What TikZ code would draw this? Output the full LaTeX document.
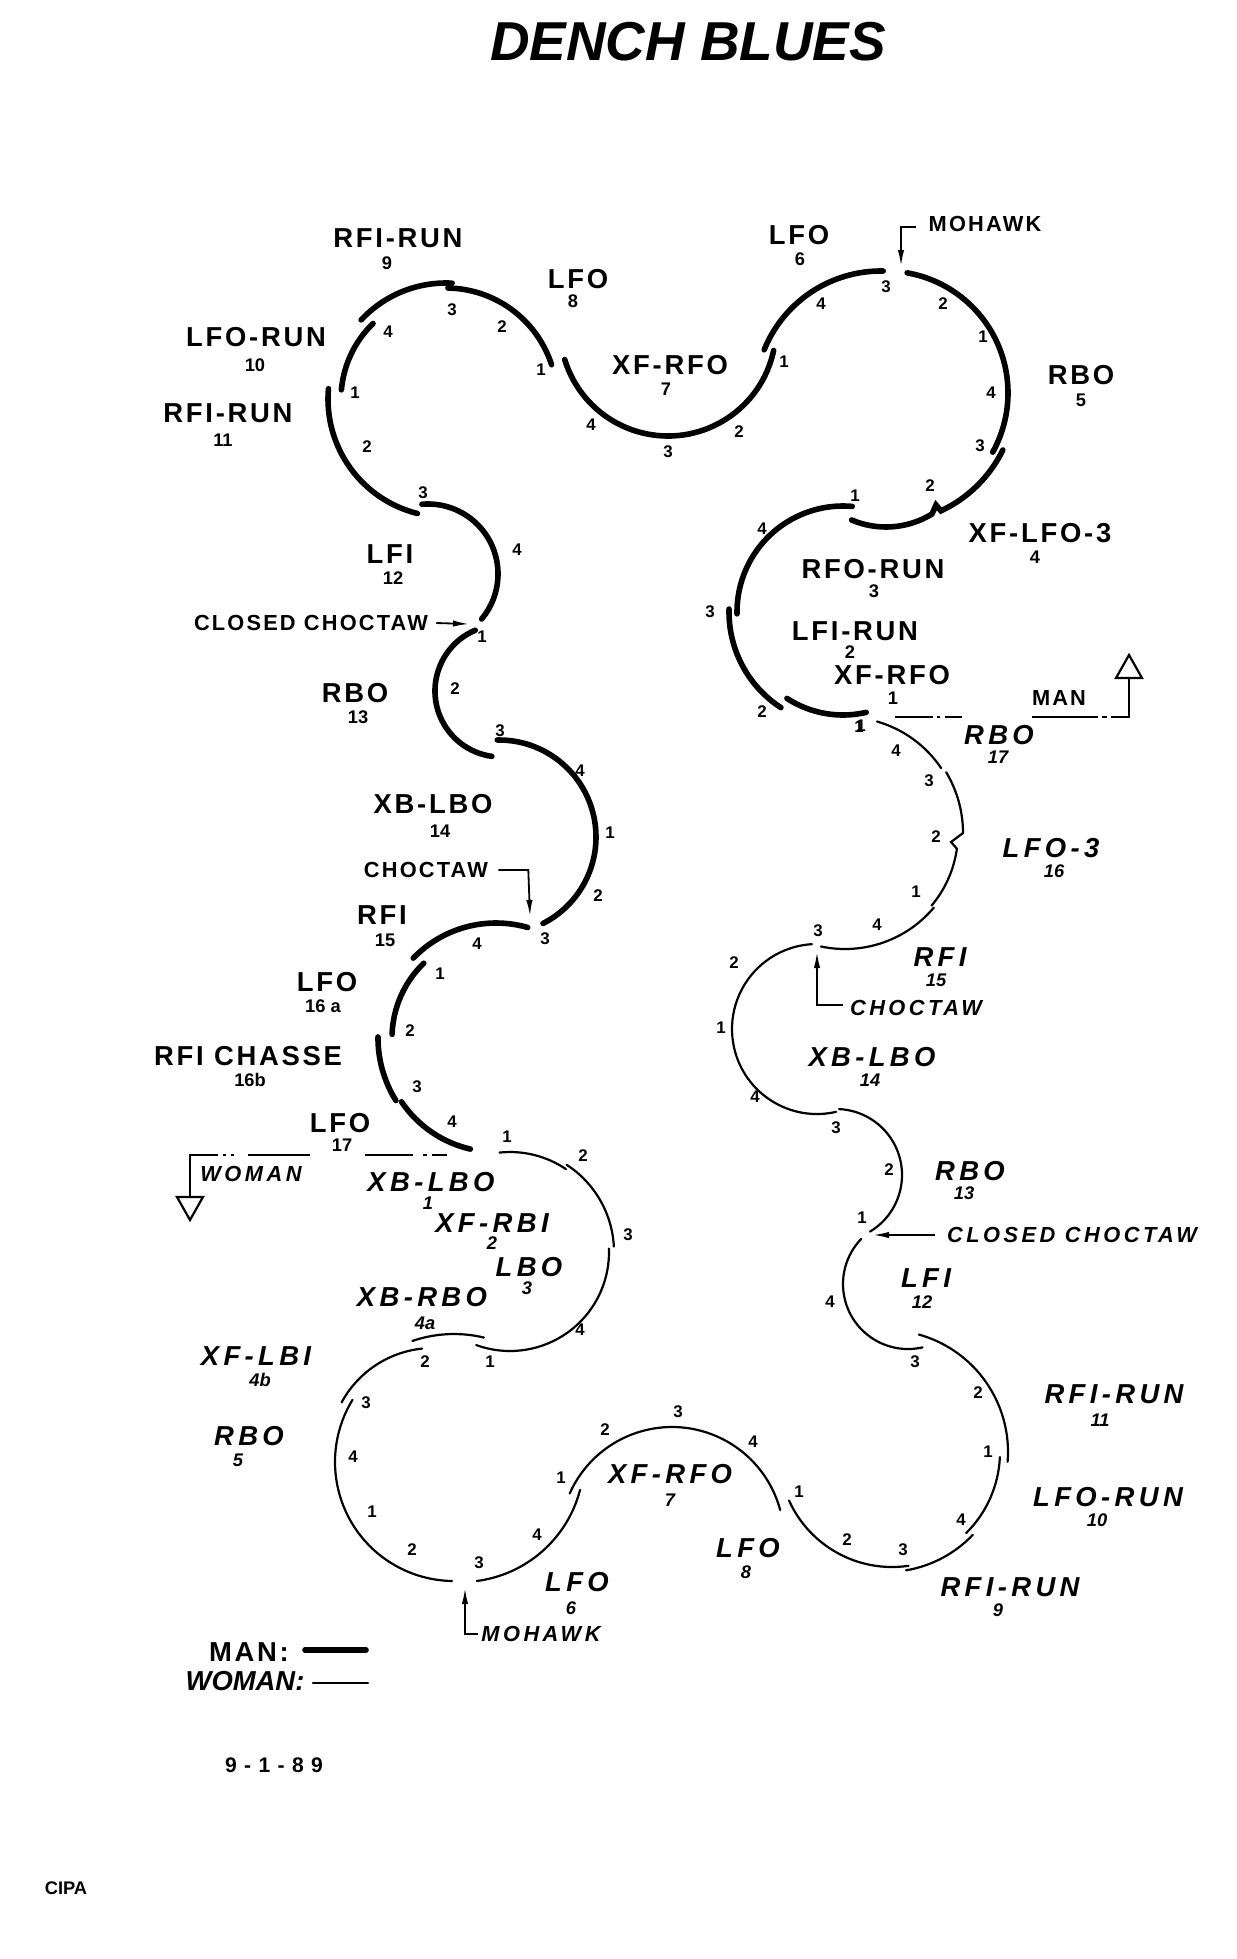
\documentclass[tikz,border=0pt]{standalone}
\usepackage{fontspec}
\usetikzlibrary{arrows.meta,calc}
\newfontfamily\lblfont[LetterSpace=10]{Liberation Sans}
\newfontfamily\wlblfont[LetterSpace=16]{Liberation Sans}
\newfontfamily\numfont{Liberation Sans}
\newfontfamily\datefont[LetterSpace=35]{Liberation Sans}

\tikzset{
  man/.style={line width=1.4mm, line cap=round},
  woman/.style={line width=0.55mm, line cap=round},
  ruler/.style={line width=0.55mm},
  mlbl/.style={font=\lblfont\bfseries\fontsize{19.5}{20}\selectfont, inner sep=0pt},
  wlbl/.style={font=\wlblfont\bfseries\itshape\fontsize{19.5}{20}\selectfont, inner sep=0pt},
  mnum/.style={font=\numfont\bfseries\fontsize{13}{14}\selectfont, inner sep=0pt},
  wnum/.style={font=\numfont\bfseries\itshape\fontsize{13}{14}\selectfont, inner sep=0pt},
  beat/.style={font=\numfont\bfseries\fontsize{12}{13}\selectfont, inner sep=0pt},
  mnote/.style={font=\lblfont\bfseries\fontsize{15.5}{16}\selectfont, inner sep=0pt},
  wnote/.style={font=\wlblfont\bfseries\itshape\fontsize{15.5}{16}\selectfont, inner sep=0pt},
  ptr/.style={line width=0.45mm, -{Latex[length=4mm,width=1.6mm]}},
}

\begin{document}
\begin{tikzpicture}[x=0.25mm,y=-0.25mm]
  \fill[white] (0,0) rectangle (1236,1959);
  \useasboundingbox (0,0) rectangle (1236,1959);

  \node[font=\numfont\bfseries\itshape\fontsize{39}{40}\selectfont, inner sep=0pt] (title) at (688,42) {DENCH BLUES};

  % lobe centres
  \coordinate (ma) at (843,612);
  \coordinate (mb) at (886,439);
  \coordinate (mc) at (886,393);
  \coordinate (md) at (881,397);
  \coordinate (me) at (668,328);
  \coordinate (mf) at (446,399);
  \coordinate (mg) at (428,574);
  \coordinate (mh) at (501,691);
  \coordinate (mi) at (499,837);
  \coordinate (mj) at (496,1038);
  \coordinate (wa) at (510,1252);
  \coordinate (wb) at (454,1462);
  \coordinate (wc) at (433,1452);
  \coordinate (wd) at (461,1459);
  \coordinate (we) at (672,1539);
  \coordinate (wf) at (892,1454);
  \coordinate (wg) at (886,1452);
  \coordinate (wh) at (908,1284);
  \coordinate (wi) at (836,1175);
  \coordinate (wj) at (817,1029);
  \coordinate (wk) at (845,833);

  % man's steps
  \draw[man] (ma) ++(123:103) arc[start angle=123, end angle=77, radius=103];
  \draw[man] (ma) ++(181.5:114) arc[start angle=181.5, end angle=123, radius=114];
  \draw[man] (ma) ++(179:106) arc[start angle=179, end angle=275, radius=106];
  \draw[man] (mb) ++(113:88) arc[start angle=113, end angle=58.5, radius=88]
    -- (936,505) -- ($(mc)+(65:130)$) arc[start angle=65, end angle=26, radius=130];
  \draw[man] (mc) ++(280:122) arc[start angle=280, end angle=389, radius=122];
  \draw[man] (md) ++(271:126) arc[start angle=271, end angle=202, radius=126];
  \draw[man] (me) ++(12:108) arc[start angle=12, end angle=163, radius=108];
  \draw[man] (mf) ++(342:111) arc[start angle=342, end angle=271, radius=111];
  \draw[man] (mf) ++(273:116) arc[start angle=273, end angle=223, radius=116];
  \draw[man] (mf) ++(226:105) arc[start angle=226, end angle=185, radius=105];
  \draw[man] (mf) ++(185:118) arc[start angle=185, end angle=104, radius=118];
  \draw[man] (mg) ++(265:70) arc[start angle=265, end angle=400, radius=70];
  \draw[man] (mh) ++(247:66) arc[start angle=247, end angle=98, radius=66];
  \draw[man] (mi) ++(269:97) arc[start angle=269, end angle=423, radius=97];
  \draw[man] (mj) ++(286:115) arc[start angle=286, end angle=224, radius=115];
  \draw[man] (mj) ++(226:104) arc[start angle=226, end angle=182, radius=104];
  \draw[man] (mj) ++(180.5:118) arc[start angle=180.5, end angle=148, radius=118];
  \draw[man] (mj) ++(146:114) arc[start angle=146, end angle=103, radius=114];

  % woman's steps
  \draw[woman] (wa) ++(264:100) arc[start angle=264, end angle=304, radius=100];
  \draw[woman] (wa) ++(303:104) arc[start angle=303, end angle=357, radius=104];
  \draw[woman] (wa) ++(358:99) arc[start angle=358, end angle=470, radius=99];
  \draw[woman] (wb) ++(251:128) arc[start angle=251, end angle=283.5, radius=128];
  \draw[woman] (wc) ++(264:104) arc[start angle=264, end angle=208.5, radius=104];
  \draw[woman] (wb) ++(211.5:119) arc[start angle=211.5, end angle=91, radius=119];
  \draw[woman] (wd) ++(82.6:123) arc[start angle=82.6, end angle=14.5, radius=123];
  \draw[woman] (we) ++(204:112) arc[start angle=204, end angle=345, radius=112];
  \draw[woman] (wf) ++(155.7:113) arc[start angle=155.7, end angle=81.6, radius=113];
  \draw[woman] (wg) ++(80.4:120) arc[start angle=80.4, end angle=43.7, radius=120];
  \draw[woman] (wg) ++(45.4:114) arc[start angle=45.4, end angle=2.5, radius=114];
  \draw[woman] (wg) ++(4.6:122) arc[start angle=4.6, end angle=-74.4, radius=122];
  \draw[woman] (wh) ++(77:65) arc[start angle=77, end angle=224, radius=65];
  \draw[woman] (wi) ++(59:66) arc[start angle=59, end angle=-87.4, radius=66];
  \draw[woman] (wj) ++(77:85) arc[start angle=77, end angle=266.6, radius=85];
  \draw[woman] (wk) ++(102:116) arc[start angle=102, end angle=40, radius=116];
  \draw[woman] (wk) ++(40:113) arc[start angle=40, end angle=8, radius=113]
    -- (951,842) -- ($(wk)+(0:118)$) arc[start angle=0, end angle=-31, radius=118];
  \draw[woman] (wk) ++(-74:116) arc[start angle=-74, end angle=-34, radius=116];

  % man's labels
  \node[mlbl] (m1) at (892,675) {XF-RFO};
  \node[mnum] (m1n) at (893,698) {1};
  \node[mlbl] (m2) at (855,631) {LFI-RUN};
  \node[mnum] (m2n) at (850,652) {2};
  \node[mlbl] (m3) at (873,569) {RFO-RUN};
  \node[mnum] (m3n) at (874,591) {3};
  \node[mlbl] (m4) at (1040,533) {XF-LFO-3};
  \node[mnum] (m4n) at (1035,557) {4};
  \node[mlbl] (m5) at (1081,375) {RBO};
  \node[mnum] (m5n) at (1081,400) {5};
  \node[mlbl] (m6) at (799,235) {LFO};
  \node[mnum] (m6n) at (800,259) {6};
  \node[mlbl] (m7) at (670,365) {XF-RFO};
  \node[mnum] (m7n) at (666,389) {7};
  \node[mlbl] (m8) at (578,279) {LFO};
  \node[mnum] (m8n) at (573,301) {8};
  \node[mlbl] (m9) at (398,238) {RFI-RUN};
  \node[mnum] (m9n) at (387,263) {9};
  \node[mlbl] (m10) at (256,337) {LFO-RUN};
  \node[mnum] (m10n) at (255,365) {10};
  \node[mlbl] (m11) at (228,413) {RFI-RUN};
  \node[mnum] (m11n) at (223,440) {11};
  \node[mlbl] (m12) at (390,554) {LFI};
  \node[mnum] (m12n) at (393,578) {12};
  \node[mlbl] (m13) at (355,693) {RBO};
  \node[mnum] (m13n) at (358,717) {13};
  \node[mlbl] (m14) at (433,804) {XB-LBO};
  \node[mnum] (m14n) at (440,831) {14};
  \node[mlbl] (m15) at (382,915) {RFI};
  \node[mnum] (m15n) at (385,940) {15};
  \node[mlbl] (m16a) at (327,982) {LFO};
  \node[mnum] (m16an) at (323,1006) {16 a};
  \node[mlbl] (m16b) at (248,1056) {RFI CHASSE};
  \node[mnum] (m16bn) at (250,1080) {16b};
  \node[mlbl] (m17) at (340,1123) {LFO};
  \node[mnum] (m17n) at (342,1145) {17};

  \node[mnote] (mmohawk) at (985,224) {MOHAWK};
  \node[mnote] (mclosed) at (311,623) {CLOSED CHOCTAW};
  \node[mnote] (mchoc) at (426,870) {CHOCTAW};
  \node[mnote] (mman) at (1059,698) {MAN};

  % woman's labels
  \node[wlbl] (w1) at (431,1182) {XB-LBO};
  \node[wnum] (w1n) at (428,1203) {1};
  \node[wlbl] (w2) at (492,1223) {XF-RBI};
  \node[wnum] (w2n) at (492,1243) {2};
  \node[wlbl] (w3) at (529,1267) {LBO};
  \node[wnum] (w3n) at (527,1288) {3};
  \node[wlbl] (w4a) at (422,1297) {XB-RBO};
  \node[wnum] (w4an) at (425,1323) {4a};
  \node[wlbl] (w4b) at (256,1356) {XF-LBI};
  \node[wnum] (w4bn) at (260,1380) {4b};
  \node[wlbl] (w5) at (249,1436) {RBO};
  \node[wnum] (w5n) at (238,1460) {5};
  \node[wlbl] (w6) at (577,1582) {LFO};
  \node[wnum] (w6n) at (571,1608) {6};
  \node[wlbl] (w7) at (670,1474) {XF-RFO};
  \node[wnum] (w7n) at (670,1500) {7};
  \node[wlbl] (w8) at (748,1548) {LFO};
  \node[wnum] (w8n) at (746,1572) {8};
  \node[wlbl] (w9) at (1010,1587) {RFI-RUN};
  \node[wnum] (w9n) at (998,1610) {9};
  \node[wlbl] (w10) at (1108,1497) {LFO-RUN};
  \node[wnum] (w10n) at (1097,1520) {10};
  \node[wlbl] (w11) at (1114,1394) {RFI-RUN};
  \node[wnum] (w11n) at (1100,1420) {11};
  \node[wlbl] (w12) at (926,1278) {LFI};
  \node[wnum] (w12n) at (922,1302) {12};
  \node[wlbl] (w13) at (970,1171) {RBO};
  \node[wnum] (w13n) at (964,1193) {13};
  \node[wlbl] (w14) at (872,1057) {XB-LBO};
  \node[wnum] (w14n) at (870,1080) {14};
  \node[wlbl] (w15) at (940,957) {RFI};
  \node[wnum] (w15n) at (936,980) {15};
  \node[wlbl] (w16) at (1051,848) {LFO-3};
  \node[wnum] (w16n) at (1054,871) {16};
  \node[wlbl] (w17) at (999,735) {RBO};
  \node[wnum] (w17n) at (998,757) {17};

  \node[wnote] (wmohawk) at (541,1634) {MOHAWK};
  \node[wnote] (wclosed) at (1072,1235) {CLOSED CHOCTAW};
  \node[wnote] (wchoc) at (916,1008) {CHOCTAW};
  \node[wnote] (wwoman) at (251,1174) {WOMAN};

  % beats, man
  \node[beat] (mb1) at (452,310) {3};
  \node[beat] (mb2) at (502,327) {2};
  \node[beat] (mb3) at (541,370) {1};
  \node[beat] (mb4) at (388,332) {4};
  \node[beat] (mb5) at (355,393) {1};
  \node[beat] (mb6) at (367,447) {2};
  \node[beat] (mb7) at (423,493) {3};
  \node[beat] (mb8) at (517,550) {4};
  \node[beat] (mb9) at (591,425) {4};
  \node[beat] (mb10) at (668,452) {3};
  \node[beat] (mb11) at (739,432) {2};
  \node[beat] (mb12) at (784,362) {1};
  \node[beat] (mb13) at (821,304) {4};
  \node[beat] (mb14) at (886,287) {3};
  \node[beat] (mb15) at (943,304) {2};
  \node[beat] (mb16) at (983,337) {1};
  \node[beat] (mb17) at (991,393) {4};
  \node[beat] (mb18) at (980,446) {3};
  \node[beat] (mb19) at (930,486) {2};
  \node[beat] (mb20) at (855,496) {1};
  \node[beat] (mb21) at (762,529) {4};
  \node[beat] (mb22) at (710,612) {3};
  \node[beat] (mb23) at (762,712) {2};
  \node[beat] (mb24) at (859,727) {1};
  \node[beat] (mb25) at (482,637) {1};
  \node[beat] (mb26) at (455,689) {2};
  \node[beat] (mb27) at (500,731) {3};
  \node[beat] (mb28) at (580,771) {4};
  \node[beat] (mb29) at (610,833) {1};
  \node[beat] (mb30) at (598,896) {2};
  \node[beat] (mb31) at (545,939) {3};
  \node[beat] (mb32) at (477,944) {4};
  \node[beat] (mb33) at (440,974) {1};
  \node[beat] (mb34) at (410,1031) {2};
  \node[beat] (mb35) at (417,1087) {3};
  \node[beat] (mb36) at (452,1122) {4};

  % beats, woman
  \node[beat] (wb1) at (861,726) {1};
  \node[beat] (wb2) at (896,751) {4};
  \node[beat] (wb3) at (929,781) {3};
  \node[beat] (wb4) at (936,837) {2};
  \node[beat] (wb5) at (916,892) {1};
  \node[beat] (wb6) at (877,925) {4};
  \node[beat] (wb7) at (818,931) {3};
  \node[beat] (wb8) at (734,963) {2};
  \node[beat] (wb9) at (721,1028) {1};
  \node[beat] (wb10) at (755,1097) {4};
  \node[beat] (wb11) at (836,1128) {3};
  \node[beat] (wb12) at (889,1170) {2};
  \node[beat] (wb13) at (862,1218) {1};
  \node[beat] (wb14) at (830,1302) {4};
  \node[beat] (wb15) at (915,1362) {3};
  \node[beat] (wb16) at (978,1393) {2};
  \node[beat] (wb17) at (988,1452) {1};
  \node[beat] (wb18) at (961,1520) {4};
  \node[beat] (wb19) at (903,1550) {3};
  \node[beat] (wb20) at (847,1540) {2};
  \node[beat] (wb21) at (799,1492) {1};
  \node[beat] (wb22) at (753,1442) {4};
  \node[beat] (wb23) at (678,1412) {3};
  \node[beat] (wb24) at (605,1430) {2};
  \node[beat] (wb25) at (561,1478) {1};
  \node[beat] (wb26) at (537,1535) {4};
  \node[beat] (wb27) at (479,1563) {3};
  \node[beat] (wb28) at (425,1362) {2};
  \node[beat] (wb29) at (490,1362) {1};
  \node[beat] (wb30) at (580,1330) {4};
  \node[beat] (wb31) at (366,1403) {3};
  \node[beat] (wb32) at (353,1457) {4};
  \node[beat] (wb33) at (372,1512) {1};
  \node[beat] (wb34) at (412,1550) {2};
  \node[beat] (wb35) at (507,1137) {1};
  \node[beat] (wb36) at (583,1156) {2};
  \node[beat] (wb37) at (628,1235) {3};

  % turn pointers
  \coordinate (mhk) at (901,266);
  \coordinate (mcc) at (469,624);
  \coordinate (mch) at (530,916);
  \coordinate (whk) at (465,1588);
  \coordinate (wcc) at (873,1235);
  \coordinate (wch) at (817,952);
  \draw[ptr] ($(mmohawk.west)+(-12,3)$) -| (mhk);
  \draw[ptr] ($(mclosed.east)+(8,0)$) -- (mcc);
  \draw[ptr] ($(mchoc.east)+(10,0)$) -- ++(30,0) -- (mch);
  \draw[ptr] ($(wmohawk.west)+(-3,0)$) -| (whk);
  \draw[ptr] ($(wclosed.west)+(-12,0)$) -- (wcc);
  \draw[ptr] ($(wchoc.west)+(-7,-3)$) -| (wch);

  % start lines
  \draw[ruler] (895,717) -- (933,717);
  \draw[ruler] (937,717) -- (940,717);
  \draw[ruler] (945,717) -- (962,717);
  \draw[ruler] (1032,717) -- (1098,717);
  \draw[ruler] (1102,717) -- (1107,717);
  \draw[ruler] (1111,717) -- (1129,717) -- (1129,678);
  \draw[ruler] (1116,678) -- (1142,678) -- (1129,655) -- cycle;

  \draw[ruler] (190,1197) -- (190,1155) -- (218,1155);
  \draw[ruler] (223,1155) -- (226,1155);
  \draw[ruler] (231,1155) -- (234,1155);
  \draw[ruler] (248,1155) -- (310,1155);
  \draw[ruler] (365,1155) -- (413,1155);
  \draw[ruler] (423,1155) -- (427,1155);
  \draw[ruler] (432,1155) -- (447,1155);
  \draw[ruler] (177,1197) -- (203,1197) -- (190,1220) -- cycle;

  % key
  \node[font=\lblfont\bfseries\fontsize{19.5}{20}\selectfont, inner sep=0pt] (lman) at (249,1652) {MAN:};
  \node[font=\numfont\bfseries\itshape\fontsize{19.5}{20}\selectfont, inner sep=0pt] (lwoman) at (245,1681) {WOMAN:};
  \draw[man] (305,1650) -- (366,1650);
  \draw[woman] (313,1683) -- (368,1683);

  \node[font=\datefont\bfseries\fontsize{15}{16}\selectfont, inner sep=0pt] (date) at (274,1765) {9-1-89};
  \node[font=\numfont\bfseries\fontsize{13}{14}\selectfont, inner sep=0pt] (cipa) at (66,1888) {CIPA};
\end{tikzpicture}
\end{document}
